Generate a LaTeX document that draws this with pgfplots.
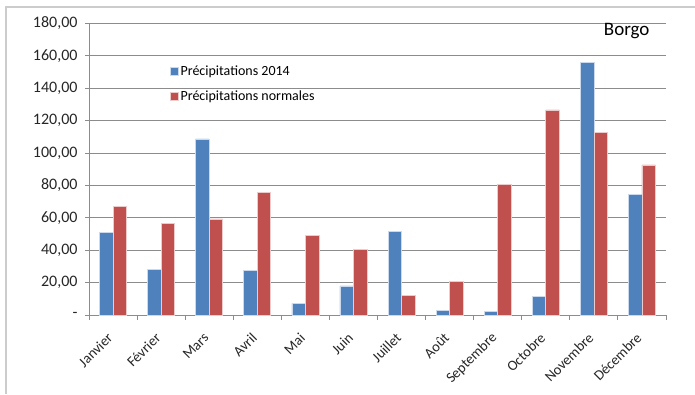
\documentclass[border=0pt]{standalone}
\usepackage{pgfplots}
\pgfplotsset{compat=1.18}
\usepackage{fontspec}
\setmainfont{Carlito}
\definecolor{cb}{HTML}{4F81BD}
\definecolor{cr}{HTML}{C0504D}
\definecolor{gl}{HTML}{8C8C8C}
\begin{document}
\begin{tikzpicture}
\useasboundingbox (0pt,0pt) rectangle (695pt,394pt);
\draw[gray!40, line width=1.5pt] (6pt,0pt) -- (6pt,387pt) -- (695pt,387pt);
\begin{axis}[at={(89pt,79pt)}, anchor=south west, scale only axis,
  width=577pt, height=291.5pt,
  ybar=0pt, bar width=13.5pt,
  xmin=-0.5, xmax=11.5, ymin=0, ymax=180,
  axis x line*=bottom, axis y line*=left,
  axis line style={gl, line width=1pt, -},
  xtick={0,...,11},
  xticklabels={Janvier,Février,Mars,Avril,Mai,Juin,Juillet,Août,Septembre,Octobre,Novembre,Décembre},
  major x tick style={draw=none},
  minor xtick={-0.5,0.5,...,11.5},
  minor tick length=5pt,
  minor x tick style={gl, line width=1pt},
  tick align=outside,
  ytick={0,20,...,180},
  yticklabels={{-\hspace{14pt}},{20,00},{40,00},{60,00},{80,00},{100,00},{120,00},{140,00},{160,00},{180,00}},
  major tick length=4pt,
  y tick style={gl, line width=1pt},
  ymajorgrids, grid style={gl, line width=1pt},
  yticklabel style={font=\fontsize{16}{18}\selectfont, text=black!85, xshift=-4pt},
  xticklabel style={font=\fontsize{14.5}{16}\selectfont, text=black!85, xshift=-0.5pt, yshift=-14pt, rotate=45, anchor=east},
  legend style={at={(0.14,0.862)}, anchor=north west, draw=none, fill=none,
    font=\fontsize{14}{16}\selectfont, row sep=10pt, inner sep=0pt,
    cells={anchor=west}},
  legend image code/.code={\fill[#1] (0pt,-4pt) rectangle (8pt,4pt);},
  clip=false,
]
\addplot[fill=cb, draw=white!70!cb, line width=0.6pt] coordinates {
(0,50.9) (1,28.3) (2,108.7) (3,27.7) (4,7.2) (5,18.0) (6,51.5) (7,2.9) (8,2.1) (9,11.7) (10,156.1) (11,74.5)};
\addplot[fill=cr, draw=white!70!cr, line width=0.6pt] coordinates {
(0,67.1) (1,56.6) (2,59.3) (3,75.9) (4,49.0) (5,40.4) (6,12.3) (7,20.9) (8,80.6) (9,126.6) (10,113.0) (11,92.7)};
\legend{Précipitations 2014, Précipitations normales}
\end{axis}
\node[anchor=base east, font=\fontsize{19}{21}\selectfont] at (653pt,358pt) {Borgo};
\end{tikzpicture}
\end{document}
